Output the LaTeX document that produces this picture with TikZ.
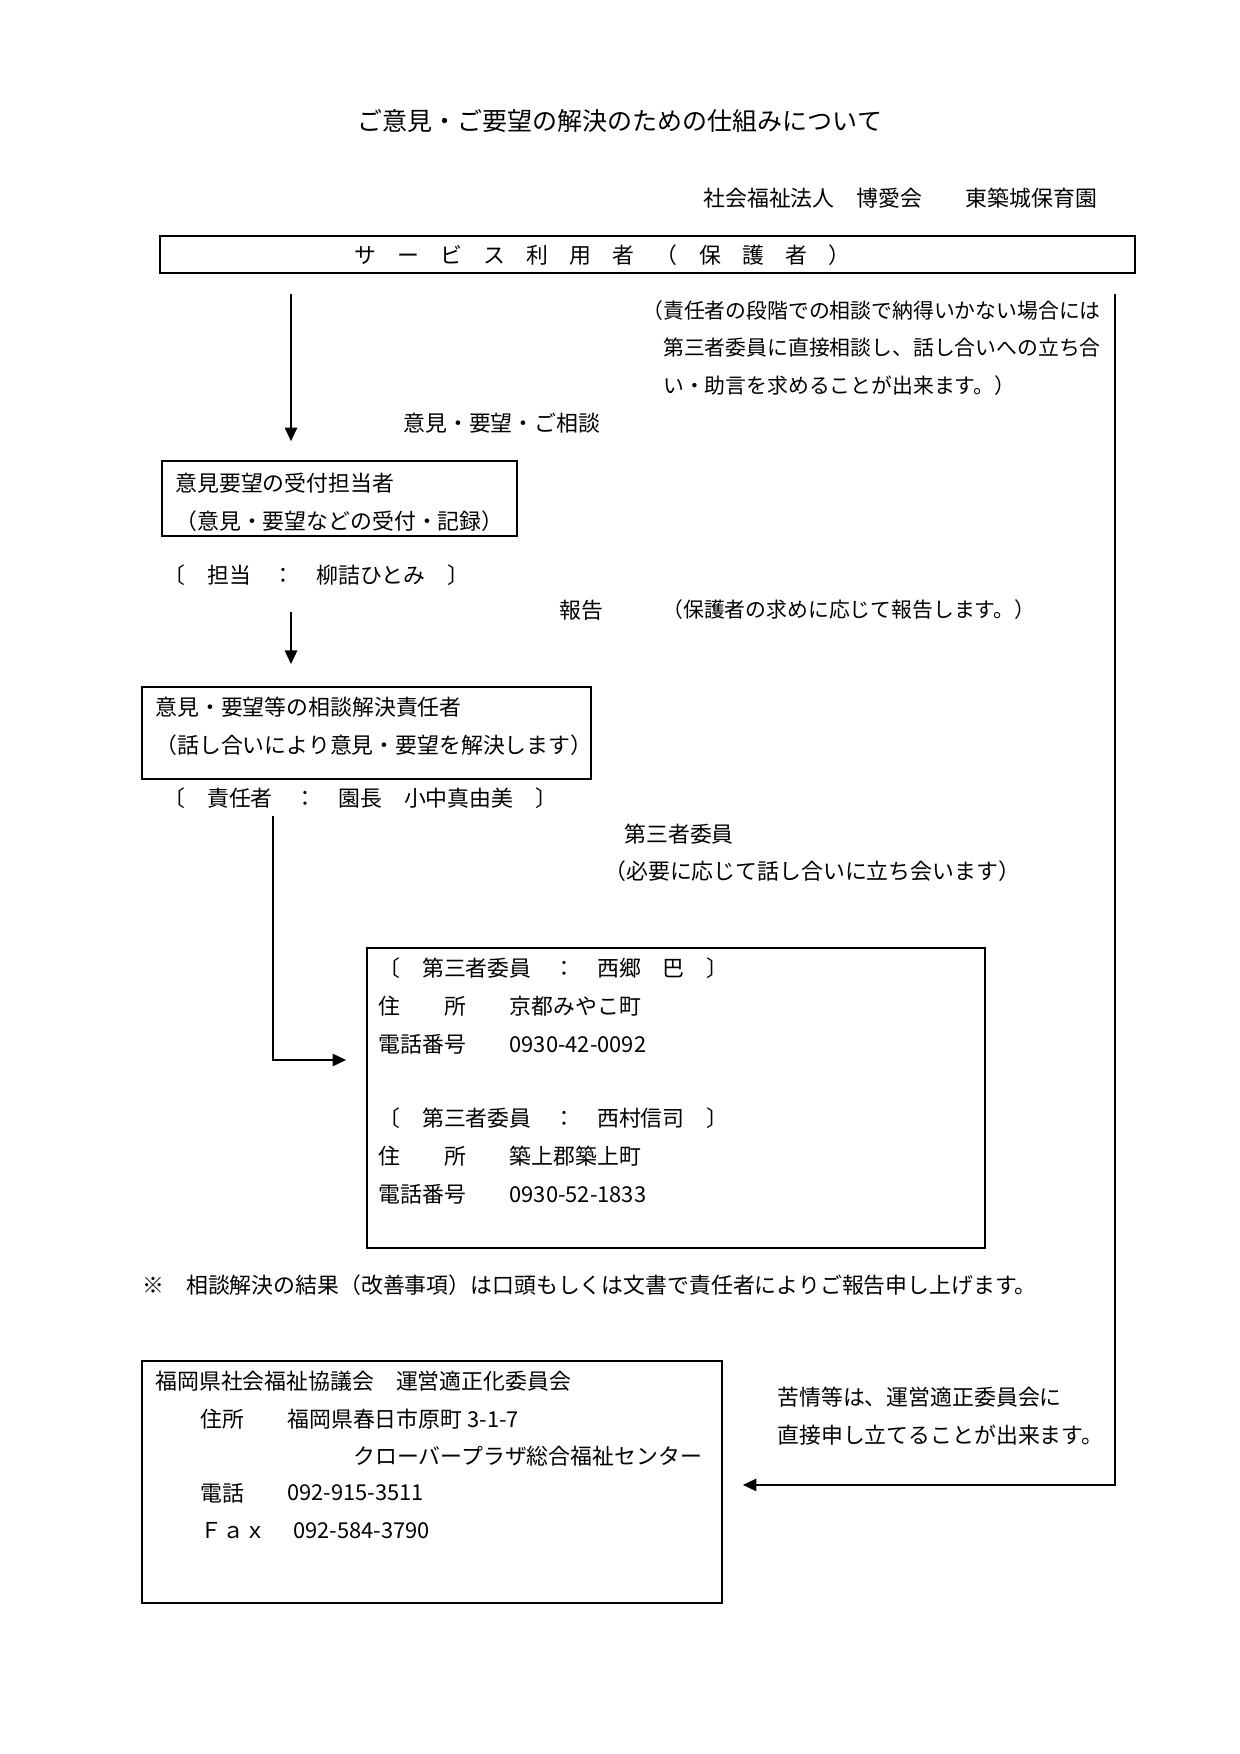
\documentclass[tikz,border=0pt]{standalone}
\usepackage{fontspec}
\setmainfont{Noto Sans CJK JP}
\usetikzlibrary{arrows.meta,fit}
\newcommand\jf{\fontsize{10.5pt}{18.2pt}\selectfont}
\newcommand\nf{\fontsize{10pt}{18.2pt}\selectfont}
\newcommand\tf{\fontsize{12pt}{14pt}\selectfont}
\newcommand\spcell[1]{\makebox[20.7pt]{#1}}
\begin{document}
\begin{tikzpicture}[x=0.48pt,y=-0.48pt,
  box/.style={draw, line width=0.9pt, inner sep=0pt},
  txt/.style={anchor=west, inner sep=0pt, font=\jf, align=left},
  arr/.style={line width=0.7pt, -{Triangle[width=6pt,length=6.5pt]}}]
\fill[white] (0,0) rectangle (1240,1754);
\path[use as bounding box] (0,0) rectangle (1240,1754);

% title
\node[inner sep=0pt, font=\tf] (title) at (620,121) {ご意見・ご要望の解決のための仕組みについて};
\node[txt] (org) at (703,198) {社会福祉法人　博愛会　　東築城保育園};

% top box
\node[box, line width=1.1pt, fit={(160,236) (1135,273)}] (top) {};
\node[inner sep=0pt, font=\jf, anchor=west] (toptext) at (343,255)
  {\spcell{サ}\spcell{ー}\spcell{ビ}\spcell{ス}\spcell{利}\spcell{用}\spcell{者}\spcell{（}\spcell{保}\spcell{護}\spcell{者}\spcell{）}};

% note at right
\node[txt, font=\nf] (note1) at (642,348) {（責任者の段階での相談で納得いかない場合には\\　第三者委員に直接相談し、話し合いへの立ち合\\　い・助言を求めることが出来ます。）};

\node[txt] (lbl1) at (403,423) {意見・要望・ご相談};

% reception box
\node[box, fit={(162,461) (517,536)}] (recv) {};
\node[txt] (recv1) at (175,483) {意見要望の受付担当者};
\node[txt] (recv2) at (175,521) {（意見・要望などの受付・記録）};
\node[txt] (recvp) at (163,575) {〔　担当　：　柳詰ひとみ　〕};

\node[txt] (lbl2) at (559,610) {報告};
\node[txt, font=\nf] (lbl2b) at (662,610) {（保護者の求めに応じて報告します。）};

% responsible box
\node[box, fit={(142,687) (591,779)}] (resp) {};
\node[txt] (resp1) at (155,707) {意見・要望等の相談解決責任者};
\node[txt] (resp2) at (155,745) {（話し合いにより意見・要望を解決します）};
\node[txt] (respp) at (163,798) {〔　責任者　：　園長　小中真由美　〕};

\node[txt] (lbl3) at (624,834) {第三者委員};
\node[txt] (lbl3b) at (604,871) {（必要に応じて話し合いに立ち会います）};

% third party box
\node[box, fit={(367,948) (985,1248)}] (third) {};
\node[txt] (t1) at (378,968) {〔　第三者委員　：　西郷　巴　〕};
\node[txt] (t2) at (378,1006) {住　　所　　京都みやこ町};
\node[txt] (t3) at (378,1044) {電話番号　　0930-42-0092};
\node[txt] (t4) at (378,1118) {〔　第三者委員　：　西村信司　〕};
\node[txt] (t5) at (378,1156) {住　　所　　築上郡築上町};
\node[txt] (t6) at (378,1194) {電話番号　　0930-52-1833};

\node[txt] (foot) at (142,1285) {※　相談解決の結果（改善事項）は口頭もしくは文書で責任者によりご報告申し上げます。};

% oversight box
\node[box, fit={(142,1361) (722,1603)}] (over) {};
\node[txt] (o1) at (155,1381) {福岡県社会福祉協議会　運営適正化委員会};
\node[txt] (o2a) at (200,1419) {住所};
\node[txt] (o2b) at (287,1419) {福岡県春日市原町 3-1-7};
\node[txt] (o3) at (353,1456) {クローバープラザ総合福祉センター};
\node[txt] (o4a) at (200,1493) {電話};
\node[txt] (o4b) at (287,1493) {092-915-3511};
\node[txt] (o5a) at (200,1531) {Ｆａｘ};
\node[txt] (o5b) at (293,1531) {092-584-3790};

\node[txt] (lbl4) at (777,1416) {苦情等は、運営適正委員会に\\直接申し立てることが出来ます。};

% connectors
\coordinate (x1) at (291,0);
\coordinate (xr) at (1115,0);
\coordinate (a2) at (291,612);
\coordinate (a3) at (273,816);
\coordinate (a3e) at (0,1060);
\draw[arr, shorten <=9.6pt, shorten >=9.1pt] (top.south -| x1) -- (recv.north -| x1);
\draw[arr, shorten >=10.6pt] (a2) -- (resp.north -| a2);
\draw[arr, shorten >=9.6pt] (a3) |- (third.west |- a3e);
\draw[arr, shorten <=9.6pt, shorten >=9.6pt] (top.south -| xr) |- ([yshift=-1.4pt]over.east);
\end{tikzpicture}
\end{document}
